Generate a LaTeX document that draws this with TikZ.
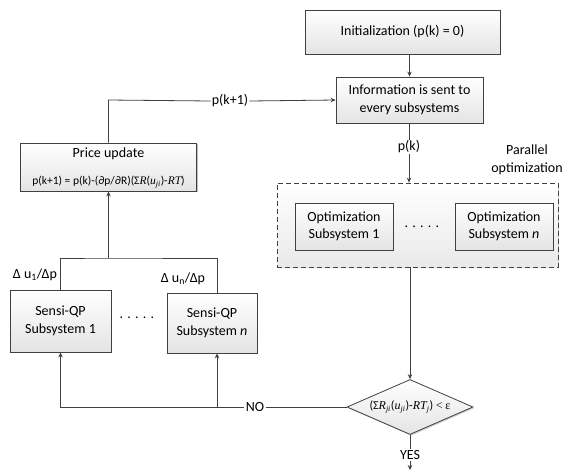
\documentclass[tikz,border=0pt]{standalone}
\usepackage{fontspec}
\setmainfont{Carlito}
\newfontfamily\tms{Liberation Serif}
\usetikzlibrary{arrows.meta,shapes.geometric,shadows}
\definecolor{edge}{HTML}{404040}
\definecolor{boxtop}{HTML}{FFFFFF}
\definecolor{boxbot}{HTML}{E4E4E4}
\newcommand{\ti}[1]{{\tms\itshape #1}}
\tikzset{
  base/.style={font=\fontsize{14}{17.5}\selectfont, text=black},
  block/.style={base, draw=edge, line width=0.8pt, top color=boxtop, bottom color=boxbot,
    align=center, inner sep=2pt,
    drop shadow={shadow xshift=1.2pt, shadow yshift=-1.2pt, fill=black, opacity=0.25}},
  groupbox/.style={draw=edge, line width=0.8pt, dash pattern=on 5pt off 3pt,
    top color=white, bottom color=boxbot!80,
    drop shadow={shadow xshift=1.2pt, shadow yshift=-1.2pt, fill=black, opacity=0.2}},
  decision/.style={font=\fontsize{12}{14}\selectfont, diamond, draw=edge, line width=0.8pt,
    top color=boxtop, bottom color=boxbot,
    inner sep=0pt, minimum width=126pt, minimum height=55pt, aspect=2.3,
    drop shadow={shadow xshift=1.2pt, shadow yshift=-1.2pt, fill=black, opacity=0.2}},
  tag/.style={base, inner sep=1pt},
  wire/.style={draw=edge, line width=0.8pt},
  flow/.style={wire, -{Stealth[length=5pt,width=4.5pt]}},
  dots/.style={base, inner sep=0pt}
}
\begin{document}
\begin{tikzpicture}[x=1pt,y=-1pt]
\useasboundingbox (0,0) rectangle (563,475);

% main column
\node[block, minimum width=195pt, minimum height=44pt] (init) at (402.5,32) {Initialization (p(k) = 0)};
\node[block, minimum width=147pt, minimum height=46pt] (info) at (409.5,100) {Information is sent to\\every subsystems};
\node[tag] (pk) at (409,147) {p(k)};
\node[tag, align=center] (par) at (527,160) {Parallel\\optimization};

% parallel optimization group
\node[groupbox, minimum width=281pt, minimum height=84pt] (grp) at (417.5,225) {};
\node[block, minimum width=98pt, minimum height=47pt] (opt1) at (344,226.5) {Optimization\\Subsystem 1};
\node[block, minimum width=98pt, minimum height=47pt] (optn) at (504,226.5) {Optimization\\Subsystem \textit{n}};
\node[dots] (odots) at (422,227) {. . . . .};

% convergence test
\node[decision] (dia) at (410,407) {(Σ\ti{R}\textsubscript{\ti{ji}}(\ti{u}\textsubscript{\ti{ji}})-\ti{RT}\textsubscript{\ti{j}}) {\tms<} {\tms ε}};
\node[tag] (yes) at (410,455) {YES};
\coordinate (out) at (410,470);
\node[tag, fill=white, inner sep=2pt] (no) at (255,407) {NO};

% sensitivity blocks
\node[block, minimum width=101pt, minimum height=62pt] (s1) at (60.5,321) {Sensi-QP\\Subsystem 1};
\node[block, minimum width=90pt, minimum height=60pt] (sn) at (212,323) {Sensi-QP\\Subsystem \textit{n}};
\node[dots] (sdots) at (137,318) {. . . . .};
\node[tag] (d1) at (35,275) {Δ u\textsubscript{1}/Δp};
\node[tag] (dn) at (183,279) {Δ u\textsubscript{n}/Δp};

% price update
\node[block, minimum width=176pt, minimum height=48pt, inner sep=0pt] (price) at (108.5,167) {};
\node[base] (ptitle) at (108.5,154) {Price update};
\node[base, font=\fontsize{11.5}{13}\selectfont] (pform) at (108.5,182.5)
  {p(k+1) = p(k)-(∂p/∂R)(Σ\ti{R}(\ti{u}\textsubscript{\ti{ji}})-\ti{RT})};
\node[tag, fill=white] (pk1) at (230,101) {p(k+1)};

% connectors
\draw[flow] (init.south -| info.north) -- (info.north);
\draw[wire] (info.south -| pk.north) -- (pk.north);
\draw[flow] (pk.south) -- (grp.north -| pk.south);
\draw[flow] (grp.south -| dia.north) -- (dia.north);
\draw[wire] (dia.south) -- (yes.north);
\draw[flow] (yes.south) -- (out);

\coordinate (c1) at (s1.south |- dia.west);
\coordinate (nb) at ([xshift=5pt]sn.south);
\coordinate (nt) at ([xshift=5pt]sn.north);
\draw[wire] (dia.west) -- (no.east);
\draw[flow] (no.west) -- (c1) -- (s1.south);
\draw[flow] (nb |- dia.west) -- (nb);

\coordinate (j) at (price.south |- 0,258);
\draw[wire] (s1.north) |- (j) -| (nt);
\draw[flow] (j) -- (price.south);

\coordinate (pu) at (price.north |- info.west);
\draw[wire] (price.north) -- (pu) -- (pk1.west);
\draw[flow] (pk1.east) -- (info.west);
\end{tikzpicture}
\end{document}
